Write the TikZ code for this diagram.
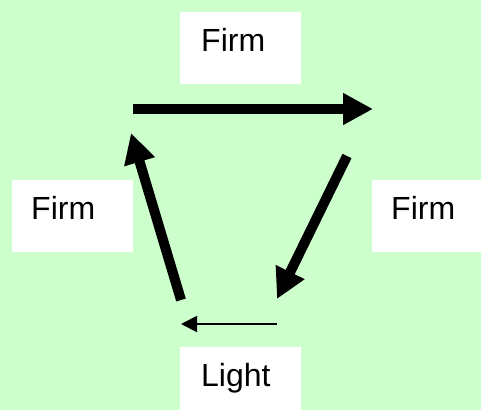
\documentclass[tikz,border=0pt]{standalone}
\usepackage{fontspec}
\setmainfont{Liberation Sans}
\usetikzlibrary{arrows.meta}
\definecolor{bggreen}{RGB}{204,255,204}
\tikzset{
  box/.style={draw=none,fill=white,rectangle,inner sep=0pt,anchor=north west},
  lbl/.style={anchor=base west,inner sep=0pt,font=\fontsize{32}{32}\selectfont},
  bigarrow/.style={line width=10pt,-{Triangle[length=30pt,width=30pt]}},
  thinarrow/.style={line width=2pt,-{Triangle[length=16pt,width=16pt]}}
}
\begin{document}
\begin{tikzpicture}[x=1pt,y=-1pt]
\fill[bggreen] (0,0) rectangle (481,410);
\useasboundingbox (0,0) rectangle (481,410);
% boxes
\node[box,minimum width=121pt,minimum height=72pt] (btop) at (180,12) {};
\node[box,minimum width=121pt,minimum height=72pt] (bleft) at (12,180) {};
\node[box,minimum width=109pt,minimum height=72pt] (bright) at (372,180) {};
\node[box,minimum width=121pt,minimum height=63pt] (bbot) at (180,347) {};
% labels
\node[lbl] (ttop) at (201,51) {Firm};
\node[lbl] (tleft) at (31,219) {Firm};
\node[lbl] (tright) at (391,219) {Firm};
\node[lbl] (tbot) at (201,386) {Light};
% arrow ends
\coordinate (a1s) at (133,109);
\coordinate (a1e) at (373,109);
\coordinate (a2s) at (347,156);
\coordinate (a2e) at (277,299);
\coordinate (a3s) at (277,324);
\coordinate (a3e) at (181,324);
\coordinate (a4s) at (181,300);
\coordinate (a4e) at (131,133);
\draw[bigarrow] (a1s) -- (a1e);
\draw[bigarrow] (a2s) -- (a2e);
\draw[thinarrow] (a3s) -- (a3e);
\draw[bigarrow] (a4s) -- (a4e);
\end{tikzpicture}
\end{document}
